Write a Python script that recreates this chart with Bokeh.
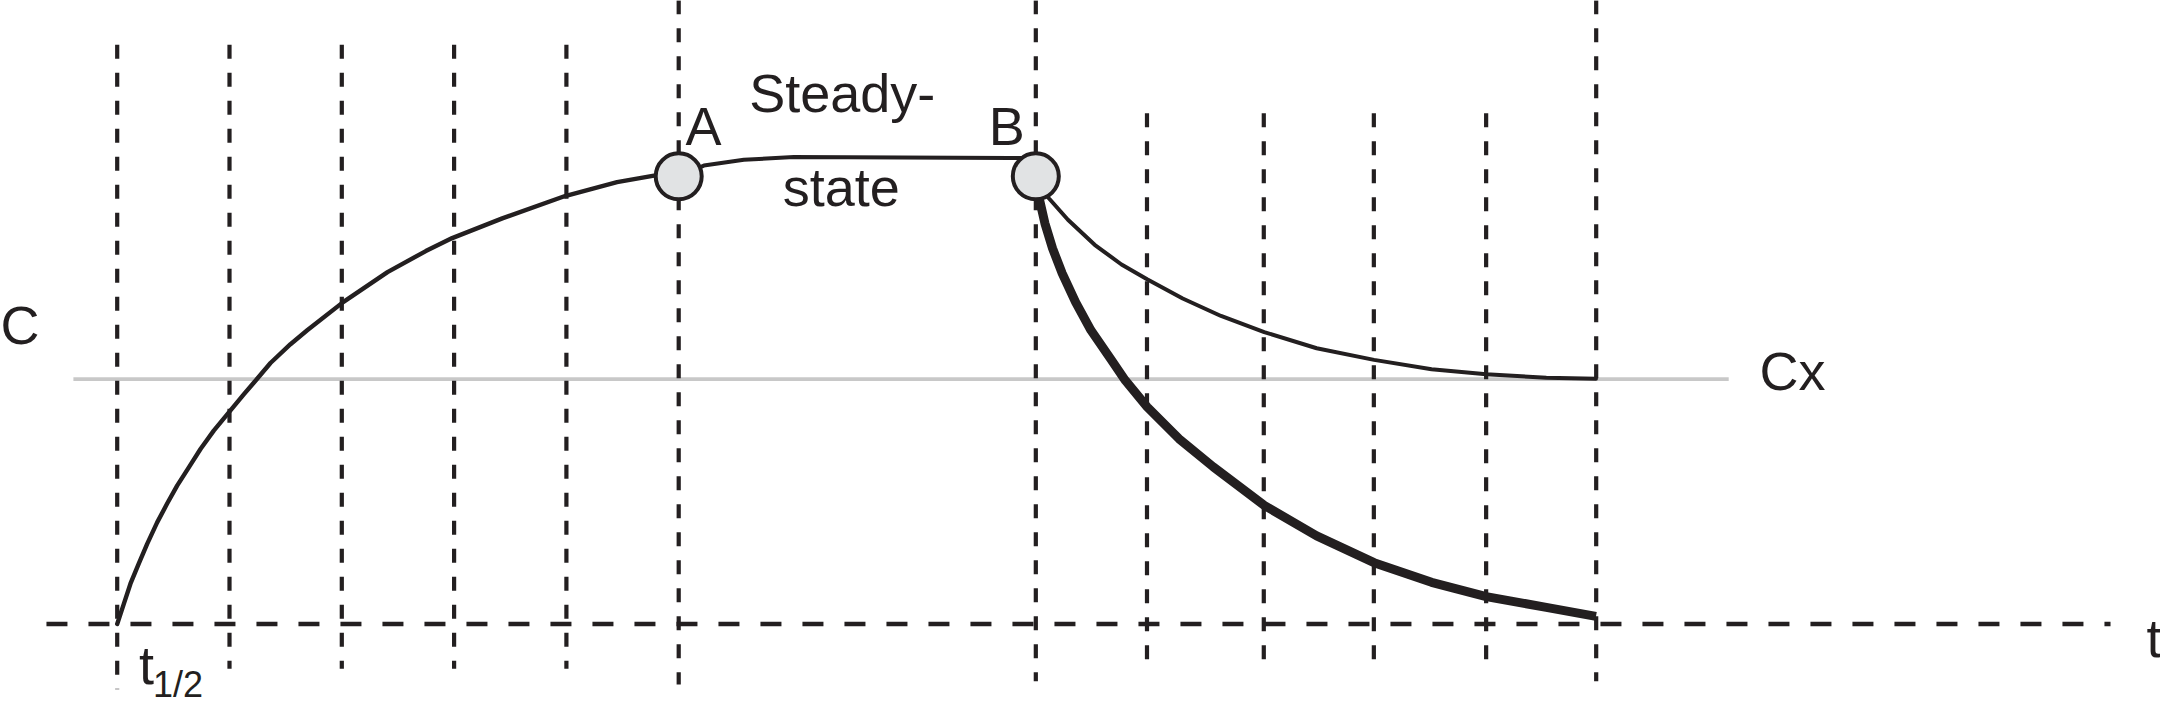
from bokeh.plotting import figure
from bokeh.models import Range1d, ColumnDataSource
from bokeh.core.properties import value
from bokeh.embed import file_html
from bokeh.resources import INLINE

INK = "#231f20"

# ---- data (time in half-lives, concentration with Css(A) = 100) ----
grid_t      = [0, 1, 2, 3, 4, 5, 8.18, 9.17, 10.21, 11.19, 12.19, 13.17]
grid_top    = [129.4, 129.4, 129.4, 129.4, 129.4, 139.3, 139.3, 114.1, 114.1, 114.1, 114.1, 139.3]
grid_bottom = [-14.6, -10.0, -10.0, -10.0, -10.0, -13.5, -12.8, -10.5, -10.5, -10.5, -10.5, -12.8]

time_axis_t = [-0.63, 17.75]
time_axis_c = [0, 0]

cx_line_t = [-0.39, 14.35]
cx_level = 54.7

rise_t = [0.0, 0.059, 0.118, 0.192, 0.267, 0.356, 0.445, 0.534, 0.638, 0.742,
          0.860, 1.009, 1.127, 1.216, 1.365, 1.543, 1.692, 2.012, 2.407, 2.748,
          2.983, 3.429, 3.988, 4.451, 4.793, 5.0]
rise_c = [0.0, 4.5, 9.0, 13.5, 17.9, 22.7, 26.9, 30.9, 35.0, 39.1,
          43.2, 47.7, 51.3, 53.9, 58.3, 62.5, 65.6, 71.9, 78.6, 83.3,
          86.2, 90.6, 95.6, 98.7, 100.2, 100.0]

plateau_t = [5.0, 5.224, 5.580, 6.025, 7.955, 8.088]
plateau_c = [100.0, 102.4, 103.7, 104.3, 104.1, 104.1]

slow_t = [8.18, 8.296, 8.466, 8.704, 8.943, 9.171, 9.488, 9.829, 10.214,
          10.681, 11.192, 11.704, 12.191, 12.726, 13.168]
slow_c = [100.0, 95.1, 90.3, 84.7, 80.3, 77.0, 72.7, 68.8, 65.2,
          61.6, 59.0, 56.9, 55.8, 55.0, 54.8]

fast_t = [8.18, 8.210, 8.261, 8.329, 8.415, 8.534, 8.671, 8.841, 8.977, 9.171,
          9.454, 9.760, 10.214, 10.681, 11.192, 11.704, 12.191, 12.726, 13.168]
fast_c = [100.0, 95.1, 89.5, 83.9, 78.3, 71.9, 65.6, 59.4, 54.4, 48.5,
          41.4, 35.1, 26.5, 19.7, 13.7, 9.3, 6.1, 3.7, 1.7]

points_t = [5.0, 8.18]
points_c = [100.0, 100.0]

label_text = ["C", "A", "B", "Steady-", "state", "Cx", "t", "t"]
label_t    = [-1.039, 5.061, 8.081, 6.456, 6.448, 14.624, 18.07, 0.194]
label_c    = [66.7, 111.2, 111.2, 118.6, 97.7, 56.6, -3.1, -9.05]
label_align = ["left", "left", "right", "center", "center", "left", "left", "left"]

sub_text = ["1/2"]
sub_t = [0.319]
sub_c = [-13.5]

# ---- figure ----
p = figure(width=2160, height=718,
           x_range=Range1d(-1.0392, 18.195), y_range=Range1d(-21.108, 139.27),
           x_axis_type=None, y_axis_type=None,
           output_backend="svg", toolbar_location=None, min_border=0)
p.grid.visible = False
p.outline_line_color = None
p.background_fill_color = "white"
p.border_fill_color = "white"

# gray Cx reference line
p.line(cx_line_t, [cx_level, cx_level], line_color="#c8c8c8", line_width=3.6)

# dashed half-life lines
p.segment(x0=grid_t, y0=grid_top, x1=grid_t, y1=grid_bottom,
          line_color=INK, line_width=4.2, line_dash="14 14")

# dashed time axis
p.line(time_axis_t, time_axis_c, line_color=INK, line_width=4.6, line_dash="21 21")

# curves
p.line(rise_t, rise_c, line_color=INK, line_width=4.4, line_join="round", line_cap="round")
p.line(plateau_t, plateau_c, line_color=INK, line_width=4.0, line_join="round")
p.line(slow_t, slow_c, line_color=INK, line_width=4.0, line_join="round", line_cap="round")
p.line(fast_t, fast_c, line_color=INK, line_width=9.0, line_join="round")

# A and B points
p.scatter(points_t, points_c, size=46, fill_color="#e1e3e4",
          line_color=INK, line_width=4.0)

# labels
src = ColumnDataSource(dict(x=label_t, y=label_c, text=label_text, align=label_align))
p.text(x="x", y="y", text="text", source=src, text_align="align",
       text_baseline="middle", text_font=value("Liberation Sans"),
       text_font_size="54px", text_color=INK)
p.text(x=sub_t, y=sub_c, text=sub_text, text_align="left",
       text_baseline="middle", text_font=value("Liberation Sans"),
       text_font_size="36px", text_color=INK)

open("out.html", "w").write(file_html(p, INLINE))
